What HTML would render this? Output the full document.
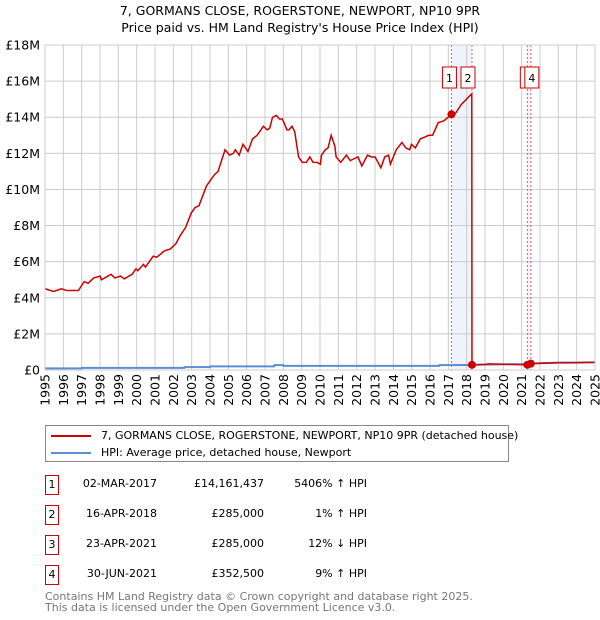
<!DOCTYPE html>
<html><head><meta charset="utf-8"><style>
body{margin:0;background:#fff;font-family:"DejaVu Sans","Liberation Sans",sans-serif;}
#wrap{position:relative;width:600px;height:620px;overflow:hidden}
.c{position:absolute;white-space:nowrap;text-align:right}
.bx{position:absolute;left:45px;width:12px;height:18px;border:1px solid #cc0000;text-align:center;line-height:18px}
</style></head><body><div id="wrap">
<svg id="svg" width="600" height="420" style="position:absolute;left:0;top:0"></svg>
<div style="position:absolute;left:45px;top:425px;width:462px;height:35px;border:1px solid #888;font-size:11px;">
 <div style="position:absolute;left:5px;top:3px;white-space:nowrap"><span style="display:inline-block;width:40px;height:2px;background:#cc0000;vertical-align:middle;margin-right:10px"></span>7, GORMANS CLOSE, ROGERSTONE, NEWPORT, NP10 9PR (detached house)</div>
 <div style="position:absolute;left:5px;top:20px;white-space:nowrap"><span style="display:inline-block;width:40px;height:2px;background:#5b8fd4;vertical-align:middle;margin-right:10px"></span>HPI: Average price, detached house, Newport</div>
</div>
<div style="position:absolute;left:0;top:0;width:600px;height:620px;font-size:11px">
 <div><span class="bx" style="top:475px">1</span><span class="c" style="left:57px;width:100px;top:477px">02-MAR-2017</span><span class="c" style="left:164px;width:100px;top:477px">£14,161,437</span><span class="c" style="left:267px;width:100px;top:477px">5406% ↑ HPI</span></div>
 <div><span class="bx" style="top:505px">2</span><span class="c" style="left:57px;width:100px;top:507px">16-APR-2018</span><span class="c" style="left:164px;width:100px;top:507px">£285,000</span><span class="c" style="left:267px;width:100px;top:507px">1% ↑ HPI</span></div>
 <div><span class="bx" style="top:535px">3</span><span class="c" style="left:57px;width:100px;top:537px">23-APR-2021</span><span class="c" style="left:164px;width:100px;top:537px">£285,000</span><span class="c" style="left:267px;width:100px;top:537px">12% ↓ HPI</span></div>
 <div><span class="bx" style="top:565px">4</span><span class="c" style="left:57px;width:100px;top:567px">30-JUN-2021</span><span class="c" style="left:164px;width:100px;top:567px">£352,500</span><span class="c" style="left:267px;width:100px;top:567px">9% ↑ HPI</span></div>
</div>
<div style="position:absolute;left:45px;top:591px;font-size:11px;color:#777;line-height:11px">Contains HM Land Registry data © Crown copyright and database right 2025.<br>This data is licensed under the Open Government Licence v3.0.</div>
</div>
<script>
const redYears=[1995.0,1995.47,1995.89,1996.2,1996.82,1997.14,1997.35,1997.66,1998.01,1998.08,1998.6,1998.81,1999.12,1999.33,1999.75,1999.96,2000.06,2000.37,2000.48,2000.9,2001.1,2001.52,2001.83,2002.14,2002.35,2002.67,2002.98,2003.19,2003.4,2003.81,2004.23,2004.44,2004.82,2005.07,2005.28,2005.38,2005.59,2005.8,2006.07,2006.32,2006.57,2006.91,2007.12,2007.26,2007.41,2007.62,2007.79,2007.95,2008.2,2008.31,2008.47,2008.62,2008.83,2009.04,2009.25,2009.45,2009.62,2009.83,2010.02,2010.08,2010.29,2010.44,2010.61,2010.81,2010.88,2011.13,2011.44,2011.65,2011.86,2012.07,2012.28,2012.59,2012.8,2013.01,2013.11,2013.32,2013.53,2013.74,2013.84,2014.16,2014.47,2014.68,2014.89,2014.99,2015.2,2015.47,2015.72,2015.93,2016.14,2016.45,2016.76,2017.17,2017.38,2017.7,2018.28,2018.29,2019.0,2019.2,2021.31,2021.5,2022.0,2023.0,2024.0,2025.0];
const redValues=[4.5,4.35,4.5,4.4,4.4,4.9,4.8,5.1,5.2,5.0,5.3,5.1,5.2,5.05,5.3,5.6,5.5,5.85,5.7,6.3,6.25,6.6,6.7,7.0,7.4,7.9,8.7,9.0,9.1,10.2,10.8,11.0,12.2,11.9,12.0,12.2,11.9,12.5,12.1,12.8,13.0,13.5,13.3,13.4,14.0,14.1,13.9,13.9,13.3,13.3,13.5,13.2,11.8,11.5,11.5,11.8,11.5,11.5,11.4,11.9,12.2,12.3,13.0,12.4,11.8,11.5,11.9,11.6,11.7,11.8,11.3,11.9,11.8,11.8,11.6,11.2,11.8,11.9,11.4,12.2,12.6,12.3,12.2,12.5,12.3,12.8,12.9,13.0,13.0,13.7,13.8,14.16,14.2,14.7,15.3,0.285,0.31,0.34,0.285,0.3525,0.37,0.41,0.41,0.43];
const hpiYears=[1995,1997,1997.01,2002.6,2002.61,2004,2004.01,2007.5,2007.51,2008,2008.01,2016.5,2016.51,2018,2019,2021,2022,2023,2024,2025];
const hpiValues=[0.09,0.09,0.12,0.12,0.16,0.16,0.2,0.2,0.27,0.27,0.23,0.23,0.27,0.28,0.3,0.33,0.38,0.4,0.41,0.42];
const saleYears=[2017.17,2018.29,2021.31,2021.5];
const saleValues=[14.161437,0.285,0.285,0.3525];
const saleLabels=["1","2","3","4"];
const yTicks=[0,2,4,6,8,10,12,14,16,18];
const yTickLabels=["£0","£2M","£4M","£6M","£8M","£10M","£12M","£14M","£16M","£18M"];
const xTicks=[1995,1996,1997,1998,1999,2000,2001,2002,2003,2004,2005,2006,2007,2008,2009,2010,2011,2012,2013,2014,2015,2016,2017,2018,2019,2020,2021,2022,2023,2024,2025];
const L=45,R=595,T=45,B=370;
const X=y=>L+(y-1995)/30*(R-L);
const Y=v=>B-v/18*(B-T);
const svg=document.getElementById('svg');
const NS='http://www.w3.org/2000/svg';
function mk(tag,attrs,parent){const e=document.createElementNS(NS,tag);for(const k in attrs)e.setAttribute(k,attrs[k]);(parent||svg).appendChild(e);return e;}
let t=mk('text',{x:300,y:15,'text-anchor':'middle','font-size':12.5});t.textContent='7, GORMANS CLOSE, ROGERSTONE, NEWPORT, NP10 9PR';


t=mk('text',{x:300,y:32,'text-anchor':'middle','font-size':12.5});t.textContent="Price paid vs. HM Land Registry's House Price Index (HPI)";


let b=mk('rect',{x:X(saleYears[0]),y:T,width:X(saleYears[1])-X(saleYears[0]),height:B-T,fill:'#eef3fc'});


b=mk('rect',{x:X(saleYears[2]),y:T,width:X(saleYears[3])-X(saleYears[2]),height:B-T,fill:'#eef3fc'});


yTicks.forEach((v,i)=>{let l=mk('line',{x1:L,x2:R,y1:Y(v),y2:Y(v),stroke:'#cccccc','stroke-width':1});


let tx=mk('text',{x:L-5,y:Y(v)+4.5,'text-anchor':'end','font-size':12.5});tx.textContent=yTickLabels[i];

});
const cw=7.95;
xTicks.forEach(v=>{let l=mk('line',{x1:X(v),x2:X(v),y1:T,y2:B,stroke:'#cccccc','stroke-width':1});


const s=String(v);const px=X(v)+4.5;const base=B+4+s.length*cw;
const xs=[],ys=[],rs=[];
for(let i=0;i<s.length;i++){xs.push(px.toFixed(2));ys.push((base-i*cw).toFixed(2));rs.push(-90);}
let tx=mk('text',{x:xs.join(' '),y:ys.join(' '),rotate:rs.join(' '),'font-size':12.5});tx.textContent=s;

});
saleYears.forEach(v=>{let l=mk('line',{x1:X(v),x2:X(v),y1:T,y2:B,stroke:'#e06060','stroke-width':1,'stroke-dasharray':'2,2'});

});
let p=mk('polyline',{points:hpiYears.map((y,i)=>X(y)+','+Y(hpiValues[i])).join(' '),fill:'none',stroke:'#5b8fd4','stroke-width':2});


p=mk('polyline',{points:redYears.map((y,i)=>X(y)+','+Y(redValues[i])).join(' '),fill:'none',stroke:'#cc0000','stroke-width':1.5});


saleYears.forEach((y,i)=>{let c=mk('circle',{cx:X(y),cy:Y(saleValues[i]),r:4,fill:'#cc0000'});

});
[0,1,2,3].forEach(i=>{const cx=X(saleYears[i])-(i==0?2:i==1?4:i==2?0:-1);
let g=mk('g',{});


mk('rect',{x:cx-7,y:67,width:14,height:21,fill:'#fff',stroke:'#cc0000','stroke-width':1},g);
let tx=mk('text',{x:cx,y:82,'text-anchor':'middle','font-size':11},g);tx.textContent=saleLabels[i];});
mk('rect',{x:L,y:T,width:R-L,height:B-T,fill:'none',stroke:'#cccccc'});
</script>
</body></html>
